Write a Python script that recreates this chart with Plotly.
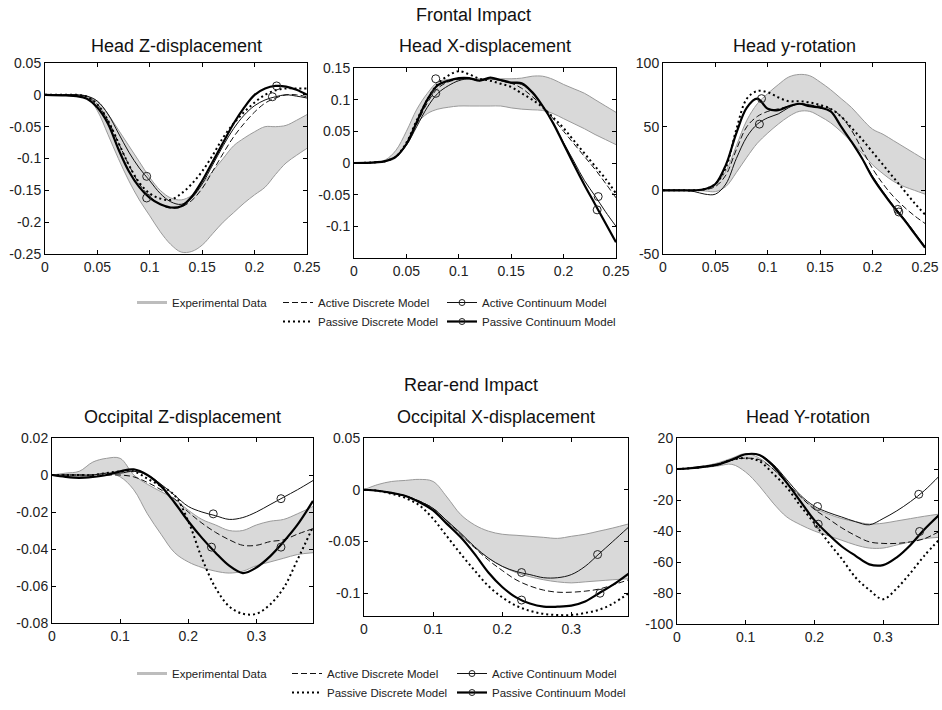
import plotly.graph_objects as go

# ---------------- time grids ----------------
t_front = [0, .02, .03, .04, .05, .06, .07, .08, .09, .10, .11, .12, .13, .14, .15,
           .16, .17, .18, .19, .20, .21, .22, .23, .24, .25]
t_rear = [0, .02, .04, .06, .08, .10, .12, .14, .16, .18, .20, .22, .24, .26, .28,
          .30, .32, .34, .36, .383]

# ---------------- Frontal: Head Z-displacement ----------------
hz_exp_hi = [0, 0, 0, -0.002, -0.01, -0.03, -0.055, -0.08, -0.105, -0.13, -0.15, -0.162, -0.165,
             -0.158, -0.14, -0.12, -0.1, -0.08, -0.068, -0.058, -0.05, -0.05, -0.048, -0.04, -0.031]
hz_exp_lo = [0, 0, -0.001, -0.003, -0.025, -0.062, -0.1, -0.135, -0.165, -0.19, -0.215, -0.235, -0.247,
             -0.246, -0.236, -0.218, -0.2, -0.185, -0.17, -0.157, -0.145, -0.125, -0.107, -0.095, -0.084]
hz_act_disc = [0, 0, 0, -0.003, -0.015, -0.04, -0.075, -0.11, -0.14, -0.16, -0.172, -0.178, -0.176,
               -0.166, -0.147, -0.12, -0.092, -0.066, -0.045, -0.027, -0.013, -0.005, 0.0, 0.0, -0.003]
hz_pas_disc = [0, 0, 0, -0.003, -0.015, -0.04, -0.075, -0.11, -0.138, -0.155, -0.163, -0.165, -0.155,
               -0.14, -0.12, -0.095, -0.067, -0.045, -0.027, -0.012, 0.0, 0.007, 0.01, 0.01, 0.01]
hz_act_cont = [0, 0, 0, -0.002, -0.01, -0.03, -0.06, -0.09, -0.115, -0.135, -0.155, -0.168, -0.172,
               -0.162, -0.14, -0.11, -0.08, -0.053, -0.032, -0.017, -0.008, -0.003, 0.0, -0.002, -0.005]
hz_pas_cont = [0, -0.001, -0.002, -0.006, -0.02, -0.045, -0.085, -0.12, -0.145, -0.162, -0.172, -0.177,
               -0.175, -0.16, -0.135, -0.105, -0.075, -0.045, -0.02, 0.0, 0.01, 0.014, 0.013, 0.008, 0.0]
hz_act_mx, hz_act_my = [0.097, 0.217], [-0.128, -0.003]
hz_pas_mx, hz_pas_my = [0.097, 0.221], [-0.162, 0.014]

# ---------------- Frontal: Head X-displacement ----------------
hx_exp_hi = [0, 0.001, 0.005, 0.02, 0.05, 0.085, 0.11, 0.128, 0.132, 0.133, 0.133, 0.133, 0.133,
             0.133, 0.133, 0.134, 0.137, 0.137, 0.132, 0.124, 0.117, 0.11, 0.1, 0.09, 0.08]
hx_exp_lo = [0, 0, 0.002, 0.008, 0.03, 0.062, 0.078, 0.085, 0.088, 0.09, 0.09, 0.09, 0.09,
             0.09, 0.087, 0.085, 0.084, 0.083, 0.078, 0.07, 0.062, 0.054, 0.045, 0.037, 0.029]
hx_act_disc = [0, 0.001, 0.003, 0.01, 0.03, 0.062, 0.095, 0.118, 0.128, 0.132, 0.133, 0.13, 0.133,
               0.13, 0.126, 0.118, 0.105, 0.09, 0.07, 0.05, 0.03, 0.01, -0.01, -0.032, -0.055]
hx_pas_disc = [0, 0.001, 0.003, 0.01, 0.032, 0.068, 0.1, 0.125, 0.138, 0.145, 0.14, 0.133, 0.13,
               0.125, 0.12, 0.11, 0.1, 0.088, 0.072, 0.055, 0.035, 0.015, -0.005, -0.025, -0.048]
hx_act_cont = [0, 0.001, 0.003, 0.01, 0.028, 0.058, 0.088, 0.11, 0.122, 0.13, 0.133, 0.13, 0.133,
               0.13, 0.126, 0.124, 0.11, 0.09, 0.063, 0.032, 0.002, -0.028, -0.052, -0.077, -0.1]
hx_pas_cont = [0, 0.001, 0.003, 0.01, 0.03, 0.065, 0.1, 0.123, 0.13, 0.134, 0.134, 0.13, 0.135,
               0.131, 0.127, 0.126, 0.112, 0.09, 0.063, 0.03, -0.003, -0.035, -0.065, -0.095, -0.125]
hx_act_mx, hx_act_my = [0.078, 0.233], [0.11, -0.053]
hx_pas_mx, hx_pas_my = [0.078, 0.232], [0.133, -0.074]

# ---------------- Frontal: Head y-rotation ----------------
hr_exp_hi = [0, 0, 0, 0.5, 5, 15, 35, 55, 68, 76, 83, 89, 91, 90, 85, 79, 72, 65, 56, 48, 44, 39, 34, 29, 24]
hr_exp_lo = [0, 0, 0, -0.5, -1, 3, 14, 26, 37, 45, 52, 58, 62, 62, 58, 53, 46, 38, 29, 20, 13, 7, 3, 0, -3]
hr_act_disc = [0, 0, 0, 0.5, 3, 12, 32, 50, 58, 62, 64, 66, 68, 67, 66, 64, 58, 47, 32, 17, 5, -5, -13, -20, -26]
hr_pas_disc = [0, 0, 0, 1, 5, 18, 48, 72, 78, 77, 73, 70, 70, 69, 67, 64, 58, 49, 40, 30, 20, 10, 0, -10, -19]
hr_act_cont = [0, 0, -1, -3, -3, 5, 25, 42, 52, 57, 60, 65, 68, 67, 65, 62, 50, 38, 25, 11, -1, -12, -22, -33, -44]
hr_pas_cont = [0, 0, 0, 1, 5, 20, 45, 65, 72, 64, 63, 66, 68, 66, 65, 62, 50, 38, 25, 10, -2, -13, -23, -34, -45]
hr_act_mx, hr_act_my = [0.092, 0.224], [52, -15]
hr_pas_mx, hr_pas_my = [0.094, 0.225], [72, -17]

# ---------------- Rear-end: Occipital Z-displacement ----------------
oz_exp_hi = [0, 0.001, 0.002, 0.007, 0.009, 0.009, 0.0, -0.005, -0.009, -0.013, -0.019, -0.024,
             -0.027, -0.03, -0.03, -0.027, -0.025, -0.024, -0.021, -0.017]
oz_exp_lo = [0, -0.001, -0.001, 0.0, 0.001, -0.001, -0.008, -0.021, -0.032, -0.042, -0.047, -0.05,
             -0.052, -0.053, -0.052, -0.049, -0.047, -0.045, -0.043, -0.042]
oz_act_disc = [0, 0.0, 0.0, 0.0, 0.0, 0.0, -0.001, -0.004, -0.008, -0.013, -0.02, -0.026, -0.031,
               -0.035, -0.038, -0.038, -0.036, -0.035, -0.032, -0.029]
oz_pas_disc = [0, 0.0, 0.0, 0.0, 0.001, 0.002, 0.002, -0.002, -0.006, -0.011, -0.025, -0.045, -0.061,
               -0.071, -0.075, -0.075, -0.07, -0.061, -0.046, -0.028]
oz_act_cont = [0, 0.0, 0.0, 0.0, 0.001, 0.001, 0.002, 0.0, -0.005, -0.011, -0.017, -0.02, -0.022,
               -0.024, -0.023, -0.02, -0.016, -0.012, -0.008, -0.003]
oz_pas_cont = [0, -0.001, -0.0015, -0.001, 0.0, 0.002, 0.003, 0.0, -0.006, -0.015, -0.025, -0.034,
               -0.042, -0.049, -0.053, -0.05, -0.044, -0.036, -0.027, -0.014]
oz_act_mx, oz_act_my = [0.2366, 0.336], [-0.021, -0.0128]
oz_pas_mx, oz_pas_my = [0.234, 0.336], [-0.039, -0.039]

# ---------------- Rear-end: Occipital X-displacement ----------------
ox_exp_hi = [0, 0.005, 0.008, 0.009, 0.01, 0.008, -0.007, -0.024, -0.034, -0.04, -0.043, -0.044,
             -0.045, -0.046, -0.047, -0.045, -0.043, -0.04, -0.037, -0.033]
ox_exp_lo = [0, -0.001, -0.003, -0.006, -0.011, -0.019, -0.031, -0.044, -0.056, -0.066, -0.074, -0.08,
             -0.084, -0.087, -0.089, -0.09, -0.089, -0.088, -0.087, -0.086]
ox_act_disc = [0, -0.001, -0.003, -0.006, -0.011, -0.018, -0.03, -0.043, -0.056, -0.068, -0.078, -0.087,
               -0.093, -0.097, -0.099, -0.099, -0.098, -0.096, -0.092, -0.087]
ox_pas_disc = [0, -0.001, -0.004, -0.008, -0.015, -0.028, -0.045, -0.062, -0.078, -0.093, -0.104, -0.112,
               -0.117, -0.12, -0.121, -0.121, -0.119, -0.116, -0.11, -0.1]
ox_act_cont = [0, -0.001, -0.003, -0.006, -0.011, -0.018, -0.03, -0.042, -0.055, -0.066, -0.074, -0.079,
               -0.082, -0.085, -0.085, -0.082, -0.074, -0.062, -0.05, -0.036]
ox_pas_cont = [0, -0.001, -0.003, -0.006, -0.012, -0.02, -0.033, -0.046, -0.062, -0.08, -0.094, -0.104,
               -0.11, -0.113, -0.113, -0.112, -0.108, -0.1, -0.092, -0.081]
ox_act_mx, ox_act_my = [0.228, 0.338], [-0.08, -0.0626]
ox_pas_mx, ox_pas_my = [0.228, 0.3415], [-0.1066, -0.1]

# ---------------- Rear-end: Head Y-rotation ----------------
hy_exp_hi = [0, 1, 2, 4, 7, 10, 7, 0, -9, -18, -25, -29, -32, -34, -35.5, -35, -33.5, -32, -30.5, -29]
hy_exp_lo = [0, 0.5, 1, 2, 3, -2, -11, -22, -31, -36, -40, -43, -46, -49, -51, -51, -49, -47, -45, -44]
hy_act_disc = [0, 0.5, 1.5, 3, 6, 7, 6, 0, -9, -18, -26, -32, -38, -43, -47, -48, -48, -47, -45, -40]
hy_pas_disc = [0, 0.5, 1.5, 3, 6, 7, 5, -3, -12, -24, -35, -47, -58, -70, -78, -84, -77, -67, -56, -45]
hy_act_cont = [0, 0.5, 1.5, 3, 6, 9.5, 9, 3, -7, -17, -24, -28, -31, -34, -36, -32, -27, -21, -14, -4]
hy_pas_cont = [0, 0.5, 1.5, 3, 6, 9.5, 9, 2, -9, -21, -33, -42, -50, -56, -61.5, -62, -57, -49, -39, -29]
hy_act_mx, hy_act_my = [0.2046, 0.352], [-24.2, -16.3]
hy_pas_mx, hy_pas_my = [0.2056, 0.3532], [-35.6, -40.3]

# ---------------- ticks ----------------
front_xticks = [0, 0.05, 0.1, 0.15, 0.2, 0.25]
front_xtext = ["0", "0.05", "0.1", "0.15", "0.2", "0.25"]
rear_xticks = [0, 0.1, 0.2, 0.3]
rear_xtext = ["0", "0.1", "0.2", "0.3"]
hz_yticks = [0.05, 0, -0.05, -0.1, -0.15, -0.2, -0.25]
hz_ytext = ["0.05", "0", "-0.05", "-0.1", "-0.15", "-0.2", "-0.25"]
hx_yticks = [0.15, 0.1, 0.05, 0, -0.05, -0.1]
hx_ytext = ["0.15", "0.1", "0.05", "0", "-0.05", "-0.1"]
hr_yticks = [100, 50, 0, -50]
hr_ytext = ["100", "50", "0", "-50"]
oz_yticks = [0.02, 0, -0.02, -0.04, -0.06, -0.08]
oz_ytext = ["0.02", "0", "-0.02", "-0.04", "-0.06", "-0.08"]
ox_yticks = [0.05, 0, -0.05, -0.1]
ox_ytext = ["0.05", "0", "-0.05", "-0.1"]
hy_yticks = [20, 0, -20, -40, -60, -80, -100]
hy_ytext = ["20", "0", "-20", "-40", "-60", "-80", "-100"]

# ---------------- panels ----------------
panels = [
    dict(title="Head Z-displacement", t=t_front, hi=hz_exp_hi, lo=hz_exp_lo, ad=hz_act_disc, pd=hz_pas_disc,
         ac=hz_act_cont, pc=hz_pas_cont, am=(hz_act_mx, hz_act_my), pm=(hz_pas_mx, hz_pas_my),
         xr=[0, 0.25], yr=[-0.25, 0.05], xt=(front_xticks, front_xtext), yt=(hz_yticks, hz_ytext),
         dom=(45, 307, 63, 254)),
    dict(title="Head X-displacement", t=t_front, hi=hx_exp_hi, lo=hx_exp_lo, ad=hx_act_disc, pd=hx_pas_disc,
         ac=hx_act_cont, pc=hx_pas_cont, am=(hx_act_mx, hx_act_my), pm=(hx_pas_mx, hx_pas_my),
         xr=[0, 0.25], yr=[-0.15, 0.15], xt=(front_xticks, front_xtext), yt=(hx_yticks, hx_ytext),
         dom=(354, 616, 68, 258)),
    dict(title="Head y-rotation", t=t_front, hi=hr_exp_hi, lo=hr_exp_lo, ad=hr_act_disc, pd=hr_pas_disc,
         ac=hr_act_cont, pc=hr_pas_cont, am=(hr_act_mx, hr_act_my), pm=(hr_pas_mx, hr_pas_my),
         xr=[0, 0.25], yr=[-50, 100], xt=(front_xticks, front_xtext), yt=(hr_yticks, hr_ytext),
         dom=(663, 925, 63, 254)),
    dict(title="Occipital Z-displacement", t=t_rear, hi=oz_exp_hi, lo=oz_exp_lo, ad=oz_act_disc, pd=oz_pas_disc,
         ac=oz_act_cont, pc=oz_pas_cont, am=(oz_act_mx, oz_act_my), pm=(oz_pas_mx, oz_pas_my),
         xr=[0, 0.383], yr=[-0.08, 0.02], xt=(rear_xticks, rear_xtext), yt=(oz_yticks, oz_ytext),
         dom=(52, 313, 438, 623)),
    dict(title="Occipital X-displacement", t=t_rear, hi=ox_exp_hi, lo=ox_exp_lo, ad=ox_act_disc, pd=ox_pas_disc,
         ac=ox_act_cont, pc=ox_pas_cont, am=(ox_act_mx, ox_act_my), pm=(ox_pas_mx, ox_pas_my),
         xr=[0, 0.382], yr=[-0.122, 0.05], xt=(rear_xticks, rear_xtext), yt=(ox_yticks, ox_ytext),
         dom=(364, 628, 438, 616)),
    dict(title="Head Y-rotation", t=t_rear, hi=hy_exp_hi, lo=hy_exp_lo, ad=hy_act_disc, pd=hy_pas_disc,
         ac=hy_act_cont, pc=hy_pas_cont, am=(hy_act_mx, hy_act_my), pm=(hy_pas_mx, hy_pas_my),
         xr=[0, 0.38], yr=[-100, 20], xt=(rear_xticks, rear_xtext), yt=(hy_yticks, hy_ytext),
         dom=(677, 938, 438, 624)),
]

W, H = 942, 710
FONT = "Liberation Sans, Arial, Helvetica, sans-serif"
BAND_FILL = "#d9d9d9"
BAND_EDGE = "#9a9a9a"

fig = go.Figure()
layout = dict(width=W, height=H, margin=dict(l=0, r=0, t=0, b=0, autoexpand=False), plot_bgcolor="white",
              paper_bgcolor="white", font=dict(family=FONT, color="#222"), showlegend=True)
annotations = []

for i, p in enumerate(panels, start=1):
    xa = "x" if i == 1 else f"x{i}"
    ya = "y" if i == 1 else f"y{i}"
    x0, x1, y0, y1 = p["dom"]
    common = dict(xaxis=xa, yaxis=ya, showlegend=False, hoverinfo="skip")
    # experimental corridor
    fig.add_trace(go.Scatter(x=p["t"], y=p["lo"], mode="lines", line=dict(color=BAND_EDGE, width=1, shape="spline"), **common))
    fig.add_trace(go.Scatter(x=p["t"], y=p["hi"], mode="lines", fill="tonexty", fillcolor=BAND_FILL,
                             line=dict(color=BAND_EDGE, width=1, shape="spline"), **common))
    # models
    fig.add_trace(go.Scatter(x=p["t"], y=p["ad"], mode="lines",
                             line=dict(color="#111", width=1, dash="6px,3px", shape="spline"), **common))
    fig.add_trace(go.Scatter(x=p["t"], y=p["pd"], mode="lines",
                             line=dict(color="#000", width=2, dash="2px,3px", shape="spline"), **common))
    fig.add_trace(go.Scatter(x=p["t"], y=p["ac"], mode="lines",
                             line=dict(color="#111", width=1, shape="spline"), **common))
    fig.add_trace(go.Scatter(x=p["t"], y=p["pc"], mode="lines",
                             line=dict(color="#000", width=2.2, shape="spline"), **common))
    fig.add_trace(go.Scatter(x=p["am"][0], y=p["am"][1], mode="markers",
                             marker=dict(symbol="circle-open", size=8, color="#222", line=dict(width=1)), **common))
    fig.add_trace(go.Scatter(x=p["pm"][0], y=p["pm"][1], mode="markers",
                             marker=dict(symbol="circle-open", size=8, color="#222", line=dict(width=1)), **common))

    axcommon = dict(showgrid=False, zeroline=False, showline=True, mirror="ticks", linecolor="black",
                    linewidth=1, ticks="inside", ticklen=4, tickcolor="black", automargin=False,
                    tickfont=dict(family=FONT, size=14, color="#222"))
    layout["xaxis" if i == 1 else f"xaxis{i}"] = dict(
        domain=[x0 / W, x1 / W], range=p["xr"], anchor=ya, tickvals=p["xt"][0], ticktext=p["xt"][1], **axcommon)
    layout["yaxis" if i == 1 else f"yaxis{i}"] = dict(
        domain=[1 - y1 / H, 1 - y0 / H], range=p["yr"], anchor=xa, tickvals=p["yt"][0], ticktext=p["yt"][1], **axcommon)
    ty = 46 if i <= 3 else 417
    annotations.append(dict(text=p["title"], x=(x0 + x1) / 2 / W, y=1 - ty / H, xref="paper", yref="paper",
                            xanchor="center", yanchor="middle", showarrow=False,
                            font=dict(family=FONT, size=18, color="#111")))

annotations.append(dict(text="Frontal Impact", x=473 / W, y=1 - 15 / H, xref="paper", yref="paper",
                        xanchor="center", yanchor="middle", showarrow=False, font=dict(family=FONT, size=18, color="#111")))
annotations.append(dict(text="Rear-end Impact", x=471 / W, y=1 - 385 / H, xref="paper", yref="paper",
                        xanchor="center", yanchor="middle", showarrow=False, font=dict(family=FONT, size=18, color="#111")))

# ---------------- legends (two blocks, three columns each) ----------------
legend_names = ["Experimental Data", "Active Discrete Model", "Passive Discrete Model",
                "Active Continuum Model", "Passive Continuum Model"]
legend_styles = [
    dict(mode="lines", line=dict(color="#bdbdbd", width=3)),
    dict(mode="lines", line=dict(color="#111", width=1, dash="6px,3px")),
    dict(mode="lines", line=dict(color="#000", width=2, dash="2px,3px")),
    dict(mode="lines+markers", line=dict(color="#111", width=1),
         marker=dict(symbol="circle-open", size=6, color="#222", line=dict(width=1))),
    dict(mode="lines+markers", line=dict(color="#000", width=2.2),
         marker=dict(symbol="circle-open", size=6, color="#222", line=dict(width=1))),
]
legend_column = [0, 1, 1, 2, 2]
col_x = [[132, 278, 442], [132, 287, 452]]
block_top = [288, 659]

lid = 1
for b in range(2):
    for c in range(3):
        key = "legend" if lid == 1 else f"legend{lid}"
        layout[key] = dict(x=col_x[b][c] / W, y=1 - block_top[b] / H, xanchor="left", yanchor="top",
                           bgcolor="rgba(0,0,0,0)", borderwidth=0, orientation="v",
                           font=dict(family=FONT, size=11.5, color="#222"), tracegroupgap=0)
        for k, name in enumerate(legend_names):
            if legend_column[k] == c:
                fig.add_trace(go.Scatter(x=[None], y=[None], name=name, legend=key, showlegend=True,
                                         hoverinfo="skip", **legend_styles[k]))
        lid += 1

layout["annotations"] = annotations
fig.update_layout(**layout)
fig.write_html("out.html", config={"displayModeBar": False},
               post_script="document.body.style.margin='0px';document.body.style.overflow='hidden';")
